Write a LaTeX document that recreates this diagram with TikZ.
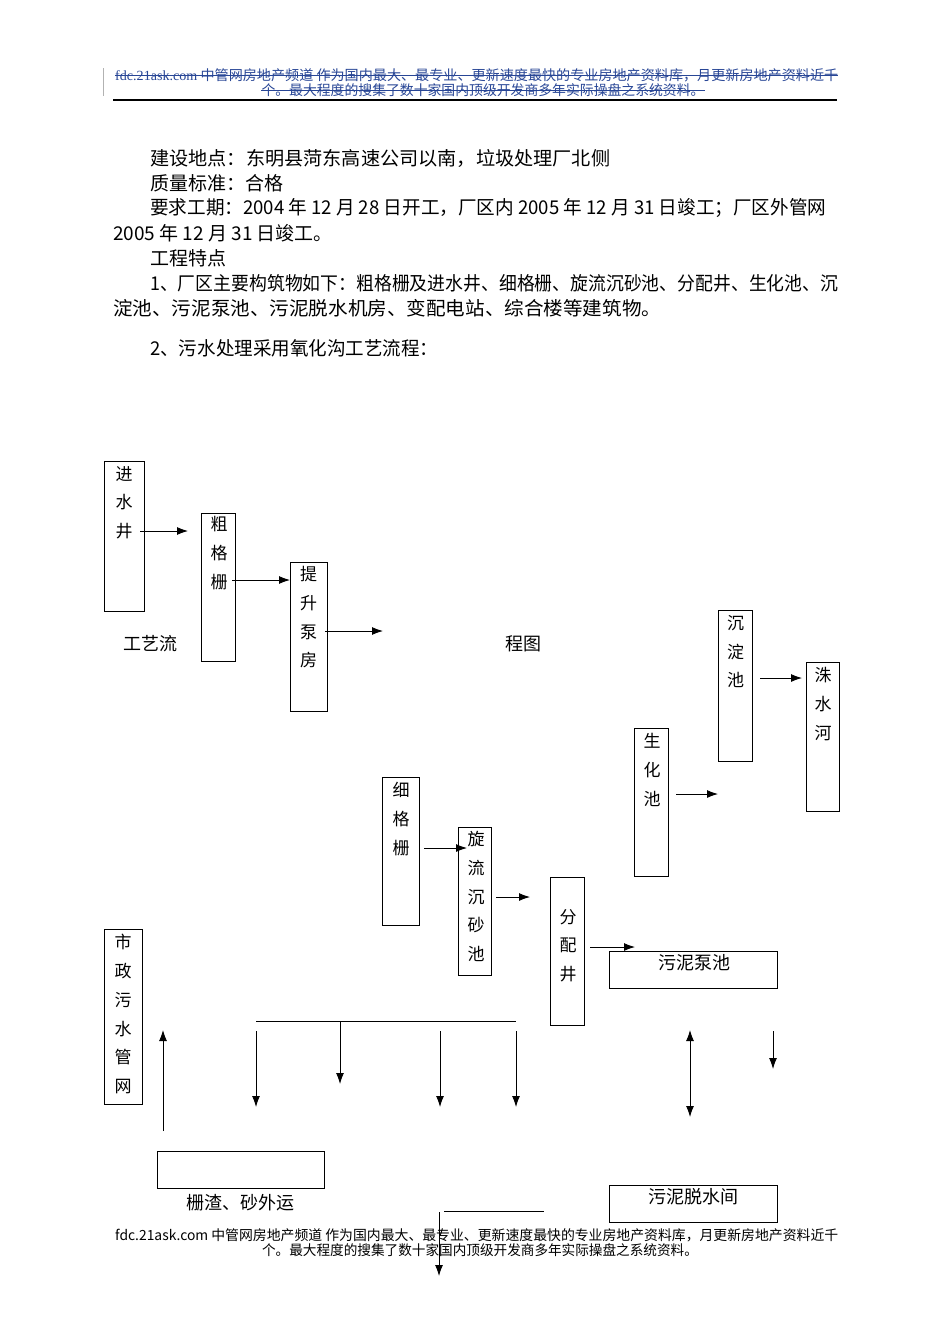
\documentclass[tikz,border=0pt]{standalone}
\usepackage{fontspec}
\usepackage{graphicx}
\setmainfont{Noto Sans CJK SC}
\newfontfamily\lat{Liberation Serif}
\usetikzlibrary{arrows.meta}
\definecolor{hdrblue}{RGB}{40,70,150}
\newcommand{\fitw}[2]{\resizebox{#1pt}{\height}{#2}}
\tikzset{
  box/.style={draw, line width=0.8pt, inner sep=0pt, anchor=north west},
  vtxt/.style={anchor=north, align=center, inner sep=0pt, font=\fontsize{17}{28.8}\selectfont},
  htxt/.style={inner sep=0pt, font=\fontsize{18}{18}\selectfont},
  body/.style={anchor=west, inner sep=0pt, font=\fontsize{19}{19}\selectfont},
  hdr/.style={inner sep=0pt, font=\fontsize{14}{14}\selectfont},
  tip/.tip={Latex[length=11pt,width=8pt]},
  arr/.style={line width=0.9pt, -tip},
  ln/.style={line width=0.9pt},
}
\begin{document}
\begin{tikzpicture}[x=1pt,y=-1pt]
\useasboundingbox[fill=white] (0,0) rectangle (950,1344);
% header
\draw[gray!60, line width=0.6pt] (103,68) -- (103,96);
\node[hdr, text=hdrblue, anchor=west] (h1) at (115,75) {\fitw{723}{{\lat fdc.21ask.com} 中管网房地产频道 作为国内最大、最专业、更新速度最快的专业房地产资料库，月更新房地产资料近千}};
\node[hdr, text=hdrblue] (h2) at (483,90) {\fitw{443}{个。最大程度的搜集了数十家国内顶级开发商多年实际操盘之系统资料。}};
\draw[hdrblue, line width=0.7pt] (h1.west) -- (h1.east);
\draw[hdrblue, line width=0.7pt] (h2.west) -- (h2.east);
\coordinate (hl1) at (113,100);
\coordinate (hl2) at (837,100);
\draw[line width=1.1pt] (hl1) -- (hl2);
% body text
\node[body] (t1) at (150,158) {\fitw{460}{建设地点：东明县菏东高速公司以南，垃圾处理厂北侧}};
\node[body] (t2) at (150,183) {质量标准：合格};
\node[body] (t3) at (150,208) {\fitw{676}{要求工期：2004 年 12 月 28 日开工，厂区内 2005 年 12 月 31 日竣工；厂区外管网}};
\node[body] (t4) at (113,233) {2005 年 12 月 31 日竣工。};
\node[body] (t5) at (150,258) {工程特点};
\node[body] (t6) at (150,283) {\fitw{688}{1、厂区主要构筑物如下：粗格栅及进水井、细格栅、旋流沉砂池、分配井、生化池、沉}};
\node[body] (t7) at (113,308) {\fitw{548}{淀池、污泥泵池、污泥脱水机房、变配电站、综合楼等建筑物。}};
\node[body] (t8) at (150,348) {\fitw{288}{2、污水处理采用氧化沟工艺流程：}};
% boxes
\node[box, minimum width=40, minimum height=150] (jsj) at (104,461) {};
\node[vtxt] at (124,466) {进\\水\\井};
\node[box, minimum width=34, minimum height=148] (cgs) at (201,513) {};
\node[vtxt] at (219,516) {粗\\格\\栅};
\node[box, minimum width=37, minimum height=149] (tsbf) at (290,562) {};
\node[vtxt] at (308.5,566) {提\\升\\泵\\房};
\node[box, minimum width=34, minimum height=151] (cdc) at (718,610) {};
\node[vtxt] at (735.5,615) {沉\\淀\\池};
\node[box, minimum width=33, minimum height=149] (zsh) at (806,662) {};
\node[vtxt] at (823,667) {洙\\水\\河};
\node[box, minimum width=34, minimum height=148] (shc) at (634,728) {};
\node[vtxt] at (652,733) {生\\化\\池};
\node[box, minimum width=37, minimum height=148] (xgs) at (382,777) {};
\node[vtxt] at (401,782) {细\\格\\栅};
\node[box, minimum width=33, minimum height=148] (xlcs) at (458,827) {};
\node[vtxt] at (476,831) {旋\\流\\沉\\砂\\池};
\node[box, minimum width=34, minimum height=148] (fpj) at (550,877) {};
\node[vtxt] at (568,909) {分\\配\\井};
\node[box, minimum width=38, minimum height=175] (szws) at (104,929) {};
\node[vtxt] at (123,934) {市\\政\\污\\水\\管\\网};
\node[box, minimum width=168, minimum height=37] (wnbc) at (609,951) {};
\node[htxt] at (694,963) {污泥泵池};
\node[box, minimum width=167, minimum height=37] (zz) at (157,1151) {};
\node[box, minimum width=168, minimum height=37] (wntsj) at (609,1185) {};
\node[htxt] at (693,1197) {污泥脱水间};
% loose labels
\node[htxt] (lb1) at (150,644) {工艺流};
\node[htxt] (lb2) at (523,644) {程图};
\node[htxt] (lb3) at (240,1203) {栅渣、砂外运};
% arrows
\coordinate (a1s) at (140,531); \coordinate (a1e) at (188,531);
\coordinate (a2s) at (232,580); \coordinate (a2e) at (290,580);
\coordinate (a3s) at (325,631); \coordinate (a3e) at (383,631);
\coordinate (a4s) at (760,678); \coordinate (a4e) at (802,678);
\coordinate (a5s) at (676,794); \coordinate (a5e) at (718,794);
\coordinate (a6s) at (424,848); \coordinate (a6e) at (467,848);
\coordinate (a7s) at (496,897); \coordinate (a7e) at (530,897);
\coordinate (a8s) at (590,947); \coordinate (a8e) at (635,947);
\draw[arr] (a1s) -- (a1e);
\draw[arr] (a2s) -- (a2e);
\draw[arr] (a3s) -- (a3e);
\draw[arr] (a4s) -- (a4e);
\draw[arr] (a5s) -- (a5e);
\draw[arr] (a6s) -- (a6e);
\draw[arr] (a7s) -- (a7e);
\draw[arr] (a8s) -- (a8e);
% up arrow
\coordinate (u1s) at (163,1131); \coordinate (u1e) at (163,1030);
\draw[arr] (u1s) -- (u1e);
% horizontal bar and down arrows
\coordinate (hb1) at (256,1021); \coordinate (hb2) at (516,1021);
\draw[ln] (hb1) -- (hb2);
\coordinate (d1s) at (256,1031); \coordinate (d1e) at (256,1107);
\coordinate (d2s) at (340,1021); \coordinate (d2e) at (340,1084);
\coordinate (d3s) at (440,1031); \coordinate (d3e) at (440,1107);
\coordinate (d4s) at (516,1031); \coordinate (d4e) at (516,1107);
\draw[arr] (d1s) -- (d1e);
\draw[arr] (d2s) -- (d2e);
\draw[arr] (d3s) -- (d3e);
\draw[arr] (d4s) -- (d4e);
% double arrow and short down arrow
\coordinate (bb1) at (690,1030); \coordinate (bb2) at (690,1117);
\draw[line width=0.9pt, tip-tip] (bb1) -- (bb2);
\coordinate (d5s) at (773,1031); \coordinate (d5e) at (773,1069);
\draw[arr] (d5s) -- (d5e);
% bottom line and arrow
\coordinate (bl1) at (444,1211); \coordinate (bl2) at (544,1211);
\draw[ln] (bl1) -- (bl2);
% footer
\node[hdr, anchor=west] (f1) at (115,1235) {\fitw{723}{fdc.21ask.com 中管网房地产频道 作为国内最大、最专业、更新速度最快的专业房地产资料库，月更新房地产资料近千}};
\node[hdr] (f2) at (480,1250) {\fitw{436}{个。最大程度的搜集了数十家国内顶级开发商多年实际操盘之系统资料。}};
\coordinate (d6s) at (439,1212); \coordinate (d6e) at (439,1276);
\draw[arr] (d6s) -- (d6e);
\end{tikzpicture}
\end{document}
